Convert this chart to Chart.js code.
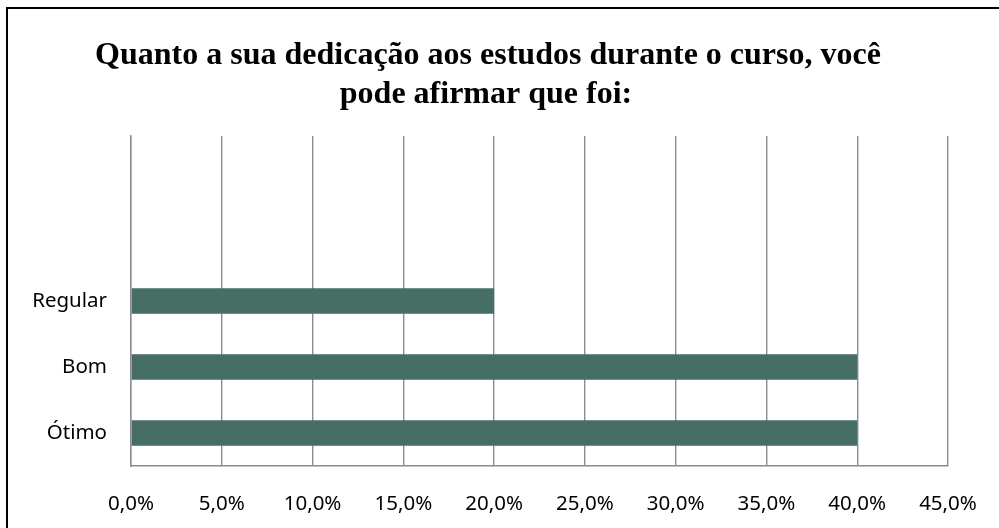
<!DOCTYPE html>
<html>
<head>
<meta charset="utf-8">
<script src="https://cdn.jsdelivr.net/npm/chart.js@4"></script>
<style>
  body { margin: 0; background: #fff; }
  #wrap { position: relative; width: 999px; height: 528px; overflow: hidden; }
  #frame { position: absolute; left: 6px; top: 7px; width: 1000px; height: 540px; border: 2px solid #000; pointer-events: none; }
</style>
</head>
<body>
<div id="wrap">
  <canvas id="chart" width="999" height="528"></canvas>
  <div id="frame"></div>
</div>
<script>
// Chart data
const categories = ['', '', 'Regular', 'Bom', 'Ótimo'];
const percentages = [0, 0, 20, 40, 40];
const titleLines = ['Quanto a sua dedicação aos estudos durante o curso, você', 'pode afirmar que foi:'];

const gridGray = '#8c8c8c';
const tickFont = { family: '"Noto Sans", "Open Sans", sans-serif', size: 20.5 };

// Draws the two-line title above the plot
const titlePlugin = {
    id: 'serifTitle',
    afterDraw(chart) {
        const ctx = chart.ctx;
        ctx.save();
        ctx.fillStyle = '#000';
        ctx.font = 'bold 32px "Liberation Serif", "Times New Roman", serif';
        ctx.textAlign = 'center';
        ctx.textBaseline = 'alphabetic';
        ctx.fillText(titleLines[0], 488, 64);
        ctx.fillText(titleLines[1], 486, 103);
        ctx.restore();
    }
};

new Chart(document.getElementById('chart'), {
    type: 'bar',
    data: {
        labels: categories,
        datasets: [{
            data: percentages,
            backgroundColor: '#466e64',
            borderWidth: 0,
            categoryPercentage: 1,
            barPercentage: 0.39
        }]
    },
    options: {
        indexAxis: 'y',
        responsive: false,
        animation: false,
        layout: { padding: { top: 136, right: 51, bottom: 0, left: 0 } },
        plugins: {
            legend: { display: false },
            title: { display: false },
            tooltip: { enabled: false }
        },
        scales: {
            x: {
                min: 0,
                max: 45,
                ticks: {
                    stepSize: 5,
                    color: '#000',
                    font: { ...tickFont, lineHeight: 1.6 },
                    padding: 22,
                    maxRotation: 0,
                    callback: v => v.toFixed(1).replace('.', ',') + '%'
                },
                grid: { display: true, color: gridGray, lineWidth: 1.4, drawTicks: false },
                border: { display: true, color: gridGray, width: 1.4 },
                afterFit(scale) { scale.height = 62; }
            },
            y: {
                ticks: { color: '#000', font: tickFont, padding: 24 },
                grid: { display: false, drawTicks: false },
                border: { display: true, color: gridGray, width: 1.4 },
                afterFit(scale) { scale.width = 131; }
            }
        }
    },
    plugins: [titlePlugin]
});
</script>
</body>
</html>
